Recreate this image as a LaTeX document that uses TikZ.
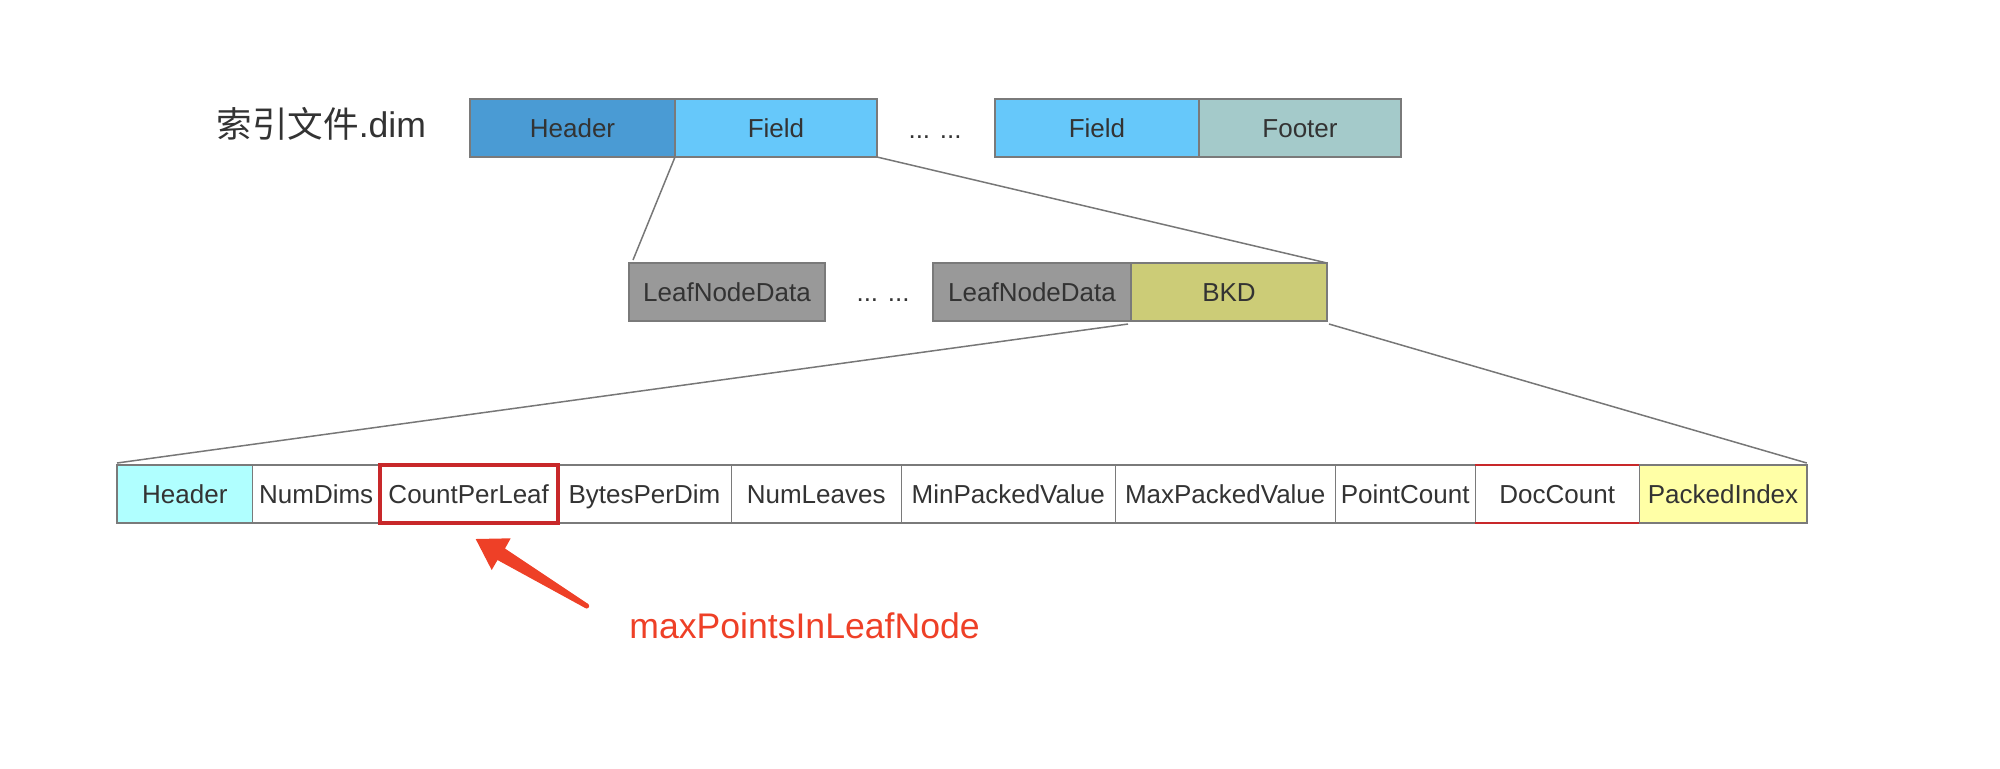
\documentclass[tikz,border=0pt]{standalone}
\usepackage{fontspec}
\setmainfont{Liberation Sans}
\newfontfamily\cjkfont{Noto Sans CJK SC}
\usetikzlibrary{positioning, calc}

\definecolor{txtgray}{HTML}{333333}
\definecolor{boxgray}{HTML}{7A7A7A}
\definecolor{linegray}{HTML}{777777}
\definecolor{hdrblue}{HTML}{4A9BD4}
\definecolor{fieldblue}{HTML}{66C8FA}
\definecolor{footteal}{HTML}{A4CACA}
\definecolor{leafgray}{HTML}{999999}
\definecolor{bkdolive}{HTML}{CCCC77}
\definecolor{hdrcyan}{HTML}{B0FFFF}
\definecolor{idxyellow}{HTML}{FFFFA6}
\definecolor{markred}{HTML}{C8282A}
\definecolor{arrowred}{HTML}{EE4027}

\tikzset{
  blk/.style={draw=boxgray, line width=1pt, minimum height=29pt, inner sep=0pt,
    outer sep=0pt, text=txtgray, text height=9.3pt, text depth=0pt,
    font=\fontsize{13}{15}\selectfont},
  cell/.style={blk, line width=0.7pt, fill=white},
  cellw/.style={minimum width=#1*0.5pt},
  zoomline/.style={draw=linegray, line width=0.75pt},
  dots/.style={text=txtgray, inner sep=0pt, anchor=base, font=\fontsize{13}{15}\selectfont},
}

\begin{document}
\begin{tikzpicture}[x=0.5pt, y=-0.5pt]
  \useasboundingbox (0,0) rectangle (2000,768);

  % file level
  \node[anchor=west, inner sep=0pt, text=txtgray, font=\fontsize{17.8}{20}\selectfont] (title) at (216,124) {{\cjkfont 索引文件}.dim};
  \node[blk, cellw=205, fill=hdrblue, anchor=north west] (fhdr) at (470,99) {Header};
  \node[blk, cellw=202, fill=fieldblue, right=0pt of fhdr] (fld) {Field};
  \node[dots] (dotsa) at (935,138) {... ...};
  \node[blk, cellw=204, fill=fieldblue, anchor=north west] (fldn) at (995,99) {Field};
  \node[blk, cellw=202, fill=footteal, right=0pt of fldn] (ftr) {Footer};

  % field level
  \node[blk, cellw=196, fill=leafgray, anchor=north west] (leafa) at (629,263) {LeafNodeData};
  \node[dots] (dotsb) at (883,301) {... ...};
  \node[blk, cellw=198, fill=leafgray, anchor=north west] (leafb) at (933,263) {LeafNodeData};
  \node[blk, cellw=196, fill=bkdolive, right=0pt of leafb] (bkd) {BKD};

  % bkd level
  \node[cell, cellw=135.7, fill=hdrcyan, anchor=north west] (bhdr) at (117,465) {Header};
  \node[cell, cellw=127, right=0pt of bhdr] (ndims) {NumDims};
  \node[cell, cellw=178, right=0pt of ndims] (cpl) {CountPerLeaf};
  \node[cell, cellw=173.5, right=0pt of cpl] (bpd) {BytesPerDim};
  \node[cell, cellw=170, right=0pt of bpd] (nleaves) {NumLeaves};
  \node[cell, cellw=214, right=0pt of nleaves] (minpv) {MinPackedValue};
  \node[cell, cellw=220, right=0pt of minpv] (maxpv) {MaxPackedValue};
  \node[cell, cellw=140, right=0pt of maxpv] (pcount) {PointCount};
  \node[cell, cellw=164, right=0pt of pcount] (dcount) {DocCount};
  \node[cell, cellw=167.6, fill=idxyellow, right=0pt of dcount] (pidx) {PackedIndex};

  \draw[zoomline] (fld.south west) -- ($(leafa.north west)+(4,-3)$);
  \draw[zoomline] (fld.south east) -- (bkd.north east);
  \draw[zoomline] ($(bkd.south west)+(-3,3)$) -- ($(bhdr.north west)+(0,-2)$);
  \draw[zoomline] ($(bkd.south east)+(2,3)$) -- ($(pidx.north east)+(0,-2)$);

  \draw[markred, line width=2pt] (cpl.north west) rectangle (cpl.south east);
  \draw[markred, line width=0.9pt] (dcount.north west) -- (dcount.north east);
  \draw[markred, line width=0.9pt] (dcount.south west) -- (dcount.south east);

  % note
  \node[anchor=base west, inner sep=0pt, text=arrowred, font=\fontsize{17.8}{20}\selectfont] (note) at (629,638) {maxPointsInLeafNode};
  \fill[arrowred] (475.7,539) -- (510.7,538.3) -- (505,548.5) -- (588,603.9)
    -- (585.4,608.1) -- (497.5,560) -- (491.7,570) -- cycle;
  \fill[arrowred] (586.7,606) circle (2.5);
\end{tikzpicture}
\end{document}
